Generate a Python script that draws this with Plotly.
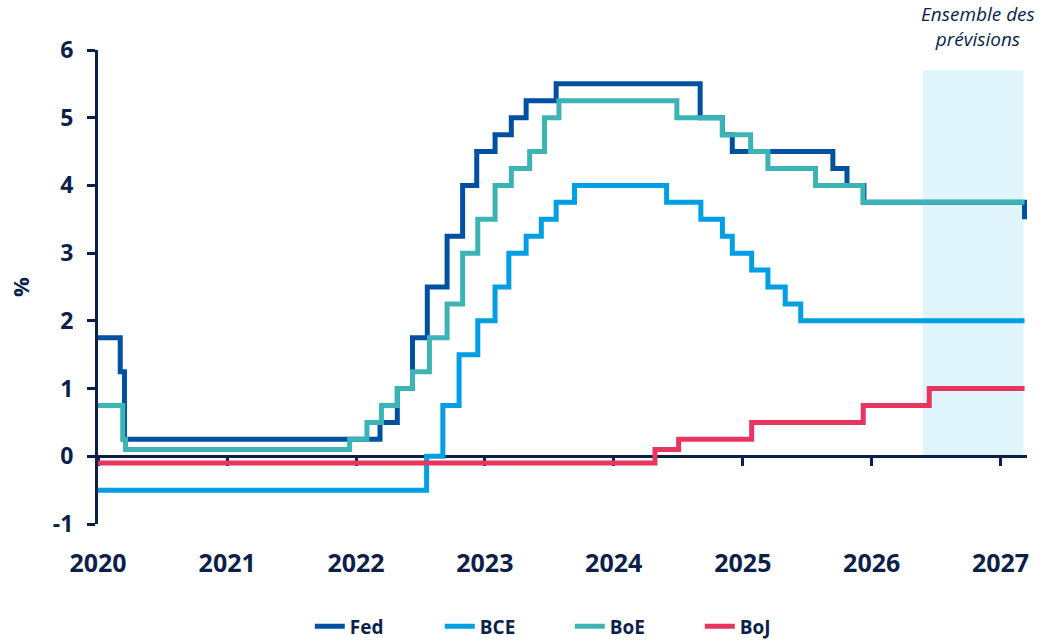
import plotly.graph_objects as go

# ---- data ----
fed_dates = ["2020-01-01", "2020-03-04", "2020-03-16", "2022-03-10", "2022-04-28", "2022-06-10",
             "2022-07-22", "2022-09-16", "2022-10-30", "2022-12-09", "2023-01-30", "2023-03-17",
             "2023-04-28", "2023-07-22", "2024-09-02", "2024-11-04", "2024-12-02", "2025-09-13",
             "2025-10-23", "2025-12-10", "2027-03-10"]
fed_values = [1.75, 1.25, 0.25, 0.5, 1.0, 1.75, 2.5, 3.25, 4.0, 4.5, 4.75, 5.0, 5.25, 5.5,
              5.0, 4.75, 4.5, 4.25, 4.0, 3.75, 3.5]

bce_dates = ["2020-01-01", "2022-07-20", "2022-09-04", "2022-10-20", "2022-12-12", "2023-01-30",
             "2023-03-10", "2023-04-28", "2023-06-10", "2023-07-22", "2023-09-12", "2024-05-30",
             "2024-09-04", "2024-11-04", "2024-12-02", "2025-01-26", "2025-03-13", "2025-05-01",
             "2025-06-14", "2027-03-10"]
bce_values = [-0.5, 0.0, 0.75, 1.5, 2.0, 2.5, 3.0, 3.25, 3.5, 3.75, 4.0, 3.75, 3.5, 3.25,
              3.0, 2.75, 2.5, 2.25, 2.0, 2.0]

boe_dates = ["2020-01-01", "2020-03-11", "2020-03-19", "2021-12-14", "2022-02-01", "2022-03-14",
             "2022-04-28", "2022-06-10", "2022-07-28", "2022-09-16", "2022-10-30", "2022-12-12",
             "2023-01-30", "2023-03-17", "2023-05-08", "2023-06-19", "2023-07-30", "2024-06-28",
             "2024-11-04", "2025-01-23", "2025-03-13", "2025-07-26", "2025-12-07", "2027-03-10"]
boe_values = [0.75, 0.25, 0.1, 0.25, 0.5, 0.75, 1.0, 1.25, 1.75, 2.25, 3.0, 3.5, 4.0, 4.25,
              4.5, 5.0, 5.25, 5.0, 4.75, 4.5, 4.25, 4.0, 3.75, 3.75]

boj_dates = ["2020-01-01", "2024-04-27", "2024-07-03", "2025-01-26", "2025-12-08", "2026-06-13",
             "2027-03-10"]
boj_values = [-0.1, 0.1, 0.25, 0.5, 0.75, 1.0, 1.0]

forecast_start = "2026-05-26"
forecast_end = "2027-03-07"
forecast_top = 5.7

x_range = ["2020-01-01", "2027-03-17"]
y_range = [-1, 6]
year_ticks = ["2020-01-01", "2021-01-01", "2022-01-01", "2023-01-01", "2024-01-01",
              "2025-01-01", "2026-01-01", "2027-01-01"]
year_labels = ["2020", "2021", "2022", "2023", "2024", "2025", "2026", "2027"]
y_ticks = [-1, 0, 1, 2, 3, 4, 5, 6]
y_labels = ["-1", "0", "1", "2", "3", "4", "5", "6"]

NAVY = "#0c1f4a"
FONT = "Open Sans"

series = [
    ("Fed", fed_dates, fed_values, "#0050a0"),
    ("BCE", bce_dates, bce_values, "#009fe3"),
    ("BoE", boe_dates, boe_values, "#3cb4b6"),
    ("BoJ", boj_dates, boj_values, "#e6355f"),
]

fig = go.Figure()
for name, xs, ys, col in series:
    fig.add_trace(go.Scatter(x=xs, y=ys, name=name, mode="lines",
                             line=dict(color=col, width=5, shape="hv")))

# invisible trace on the overlaid axis that carries the zero-line ticks
fig.add_trace(go.Scatter(x=[x_range[0]], y=[0], xaxis="x2", mode="markers",
                         marker=dict(opacity=0), showlegend=False, hoverinfo="skip"))

fig.add_shape(type="rect", xref="x", yref="y", x0=forecast_start, x1=forecast_end,
              y0=0, y1=forecast_top, fillcolor="#e0f4fc", line=dict(width=0), layer="below")

fig.add_annotation(text="<i>Ensemble des<br>prévisions</i>", xref="paper", yref="paper",
                   x=0.947, y=1.108, xanchor="center", yanchor="top", showarrow=False,
                   font=dict(family=FONT, size=19, color=NAVY), align="center")

fig.update_layout(
    width=1039, height=643,
    margin=dict(l=98, r=12, t=50, b=119, autoexpand=False),
    paper_bgcolor="white", plot_bgcolor="white",
    font=dict(family=FONT, color=NAVY),
    showlegend=True,
    legend=dict(orientation="h", x=0.228, xanchor="left", y=-0.216, yanchor="middle",
                font=dict(family=FONT, size=19, color=NAVY, weight="bold"),
                entrywidth=85, entrywidthmode="pixels", bgcolor="rgba(0,0,0,0)"),
    xaxis=dict(type="date", range=x_range, tickvals=year_ticks, ticktext=year_labels,
               showgrid=False, zeroline=False, showline=False, ticks="",
               ticklabelstandoff=22,
               tickfont=dict(family=FONT, size=25, color=NAVY, weight="bold")),
    xaxis2=dict(type="date", matches="x", overlaying="x", anchor="free",
                position=(0 - y_range[0]) / (y_range[1] - y_range[0]),
                tickvals=year_ticks, showticklabels=False, showgrid=False, zeroline=False,
                showline=True, linecolor=NAVY, linewidth=3,
                ticks="outside", ticklen=8, tickwidth=3, tickcolor=NAVY,
                layer="below traces"),
    yaxis=dict(range=y_range, tickvals=y_ticks, ticktext=y_labels, showgrid=False,
               zeroline=False, showline=True, linecolor=NAVY, linewidth=3,
               ticks="outside", ticklen=8, tickwidth=3, tickcolor=NAVY,
               ticklabelstandoff=9,
               tickfont=dict(family=FONT, size=23, color=NAVY, weight="bold"),
               title=dict(text="%", font=dict(family=FONT, size=22, color=NAVY, weight="bold"),
                          standoff=18)),
)

fig.write_html("out.html")
